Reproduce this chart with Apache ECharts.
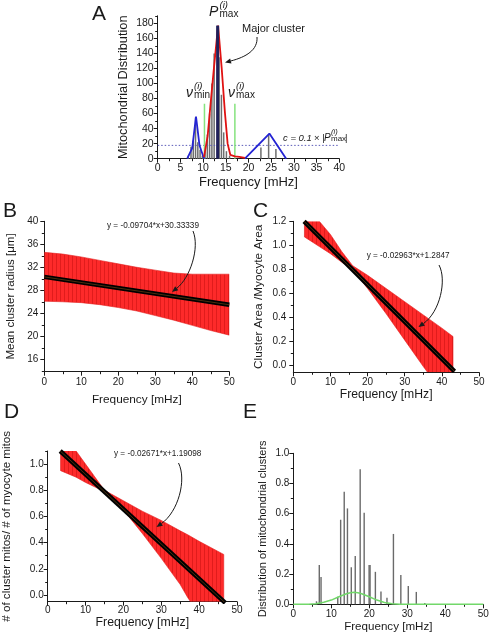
<!DOCTYPE html>
<html><head><meta charset="utf-8">
<script src="https://cdn.jsdelivr.net/npm/echarts@6/dist/echarts.min.js"></script>
<style>html,body{margin:0;padding:0;background:#fff}#c{width:490px;height:636px}</style>
</head><body><div id="c"></div>
<script>
// ---------- Panel A : mitochondrial distribution ----------
const aGreyBars = [[6.9,4],[7.5,16],[8.0,24],[8.5,55],[9.0,22],[9.5,12],[10.0,4],
  [10.6,10],[11.1,32],[11.6,60],[12.1,100],[12.6,140],[13.7,135],[14.2,85],[14.7,35],[15.3,10],[16.0,4],
  [22.9,15],[24.6,33],[26.2,13]];
const aPeakBar = [[13.2,177]];
const aRedCluster = [[10.2,2],[11.0,30],[11.6,70],[12.3,115],[13.3,177],[14.1,120],[14.8,62],[15.4,20],[16.0,5],[17.0,3],[18.0,2.5],[19.2,1]];
const aBlueLeft = [[6.5,0],[7.6,14],[8.44,56],[9.2,18],[10.05,2.7],[10.3,0]];
const aBlueRight = [[19.2,0],[24.6,33.5],[28.3,0]];
const aNuMin = [[10.3,0],[10.3,73]];
const aNuMax = [[17.0,0],[17.0,73]];
const aThreshold = [[0,17.7],[40,17.7]];
const aYLabels = [0,20,40,60,80,100,120,140,160,180];
const aYMinor = [10,30,50,70,90,110,130,150,170,190];

// ---------- Panel B : mean cluster radius ----------
const bX = [0,5,10,15,20,25,30,35,40,45,50];
const bUpper = [34.6,34.3,33.8,33.2,32.6,32.0,31.5,31.0,30.8,30.8,30.8];
const bLower = [26.1,26.0,25.85,25.5,25.0,24.4,23.6,22.8,21.9,21.0,20.2];
const bFit = [[0,30.33],[50,25.48]];
const bYLabels = [16,20,24,28,32,36,40];
const bYMinor = [14,18,22,26,30,34,38];

// ---------- Panel C : cluster area / myocyte area ----------
const cX = [3,7,10,13,16,20,25,30,35,40,43];
const cUpper = [1.36,1.2,1.09,0.95,0.83,0.75,0.64,0.53,0.42,0.31,0.24];
const cLower = [1.07,0.99,0.93,0.86,0.80,0.64,0.43,0.21,-0.01,-0.22,-0.35];
const cFit = [[2.9,1.2],[43.4,-0.05]];
const cYLabels = [0.0,0.2,0.4,0.6,0.8,1.0,1.2];
const cYMinor = [0.1,0.3,0.5,0.7,0.9,1.1];

// ---------- Panel D : cluster mitos / myocyte mitos ----------
const dX = [3.4,7.5,10,15,20,25,30,35,37,40,46.5];
const dUpper = [1.25,1.1,1.0,0.80,0.72,0.64,0.57,0.49,0.46,0.41,0.31];
const dLower = [0.95,0.90,0.86,0.79,0.65,0.47,0.28,0.08,-0.02,-0.15,-0.42];
const dFit = [[3.3,1.1],[46.9,-0.06]];
const dYLabels = [0.0,0.2,0.4,0.6,0.8,1.0];
const dYMinor = [0.1,0.3,0.5,0.7,0.9,1.1];

// ---------- Panel E : distribution of clusters ----------
const eSpikes = [[6.1,0.02],[6.84,0.26],[7.3,0.18],[11.7,0.05],[12.46,0.56],[13.4,0.745],[14.25,0.635],[15.26,0.245],
  [16.3,0.32],[17.6,0.895],[18.65,0.607],[19.95,0.26],[20.2,0.26],[21.6,0.215],[23.07,0.084],[24.65,0.044],
  [26.35,0.466],[28.3,0.194],[30.26,0.121],[32.37,0.082],[34.6,0.008]];
const eGauss = [[0,0],[4,0.001],[6,0.004],[8,0.013],[10,0.028],[12,0.05],[14,0.07],[15,0.077],[16,0.079],
  [17,0.077],[18,0.07],[20,0.05],[22,0.028],[24,0.012],[26,0.004],[28,0.001],[30,0],[50,0]];
const eYLabels = [0.0,0.2,0.4,0.6,0.8,1.0];
const eYMinor = [0.1,0.3,0.5,0.7,0.9];

// ---------- helpers ----------
const FONT = '"Liberation Sans", Arial, Helvetica, sans-serif';
const INK = '#1a1a1a';
const grids = [
  {left:157.7, top:15.8, width:181.6, height:142.9},
  {left:44.3, top:221.3, width:185, height:150.4},
  {left:293.3, top:221.3, width:185.7, height:151},
  {left:47.7, top:451, width:189.3, height:150.7},
  {left:293.3, top:453.3, width:190, height:151}
].map(g => Object.assign({containLabel:false, outerBoundsMode:'none'}, g));

function xAx(grid, max, interval, name, fs, lfs, margin, gap){
  return {type:'value', gridIndex:grid, min:0, max:max, interval:interval,
    axisLine:{onZero:false, lineStyle:{color:INK, width:1}},
    axisTick:{length:4, lineStyle:{color:INK}},
    minorTick:{show:true, splitNumber:2, length:2.5, lineStyle:{color:INK}},
    splitLine:{show:false}, minorSplitLine:{show:false},
    axisLabel:{fontSize:lfs, fontFamily:FONT, color:INK, margin:margin},
    name:name, nameLocation:'middle', nameGap:gap,
    nameTextStyle:{fontSize:fs, fontFamily:FONT, color:INK}};
}
function yAx(grid, min, max, labels, name, fs, lfs, margin, gap, fmt){
  return {type:'value', gridIndex:grid, position:'left', min:min, max:max,
    axisLine:{onZero:false, lineStyle:{color:INK, width:1}},
    axisTick:{length:4, customValues:labels, lineStyle:{color:INK}},
    splitLine:{show:false},
    axisLabel:{customValues:labels, fontSize:lfs, fontFamily:FONT, color:INK, margin:margin,
      formatter: fmt || (v => String(v))},
    name:name, nameLocation:'middle', nameGap:gap, nameRotate:90,
    nameTextStyle:{fontSize:fs, fontFamily:FONT, color:INK}};
}
function yMinor(grid, min, max, ticks){
  return {type:'value', gridIndex:grid, position:'left', min:min, max:max,
    axisLine:{show:false}, splitLine:{show:false},
    axisTick:{length:2.5, customValues:ticks, lineStyle:{color:INK}},
    axisLabel:{show:false}};
}
const f1 = v => v.toFixed(1);

const hatchCanvas = (function(){
  const c = document.createElement('canvas'); c.width = 4; c.height = 8;
  const g = c.getContext('2d');
  g.fillStyle = '#fd2a2a'; g.fillRect(0,0,4,8);
  g.fillStyle = '#e01c1c'; g.fillRect(0,0,1,8);
  return c;
})();
function band(xi, xs, lo, up){
  return {type:'custom', xAxisIndex:xi, yAxisIndex:xi, data:[[xs[0], lo[0]]], silent:true, z:2, clip:true,
    renderItem:function(params, api){
      const top = xs.map((x,i)=>api.coord([x, up[i]]));
      const bot = xs.map((x,i)=>api.coord([x, lo[i]])).reverse();
      const cs = params.coordSys;
      return {type:'polygon', shape:{points:top.concat(bot)},
        style:{fill:{image:hatchCanvas, repeat:'repeat'}, stroke:'#e42020', lineWidth:0.6},
        clipPath:{type:'rect', shape:{x:cs.x, y:cs.y, width:cs.width, height:cs.height}}};
    }};
}
function fit(xi, d){
  return [
    {type:'line', xAxisIndex:xi, yAxisIndex:xi, data:d, symbol:'none', lineStyle:{color:'#000', width:4.5}, z:5},
    {type:'line', xAxisIndex:xi, yAxisIndex:xi, data:d, symbol:'none', lineStyle:{color:'#5e3a12', width:0.8}, z:6}
  ];
}
function lineS(xi, d, color, w, extra){
  return Object.assign({type:'line', xAxisIndex:xi, yAxisIndex:xi, data:d, symbol:'none',
    lineStyle:{color:color, width:w}, z:4}, extra||{});
}
function t(x, y, s, size, o){
  return {type:'text', x:x, y:y, silent:true, z:50,
    style:Object.assign({text:s, fontSize:size, fontFamily:FONT, fill:INK,
      align:'left', verticalAlign:'top', textAlign:'left', textVerticalAlign:'top'}, o||{})};
}
function arrow(p0, c1, c2, p1){
  const dx = p1[0]-c2[0], dy = p1[1]-c2[1], L = Math.hypot(dx,dy), ux = dx/L, uy = dy/L;
  const hl = 6, hw = 2.6, bx = p1[0]-ux*hl, by = p1[1]-uy*hl;
  return [
    {type:'bezierCurve', silent:true, z:50, shape:{x1:p0[0], y1:p0[1], cpx1:c1[0], cpy1:c1[1], cpx2:c2[0], cpy2:c2[1], x2:bx, y2:by},
      style:{stroke:INK, lineWidth:1, fill:null}},
    {type:'polygon', silent:true, z:50, shape:{points:[p1, [bx-uy*hw, by+ux*hw], [bx+uy*hw, by-ux*hw]]}, style:{fill:INK}}
  ];
}

const xAxes = [
  xAx(0, 40, 5, 'Frequency [mHz]', 13, 10.5, 4, 17),
  xAx(1, 50, 10, 'Frequency [mHz]', 11.8, 10, 6, 22),
  xAx(2, 50, 10, 'Frequency [mHz]', 12.2, 10, 5, 13),
  xAx(3, 50, 10, 'Frequency [mHz]', 12.3, 10, 4, 15),
  xAx(4, 50, 10, 'Frequency [mHz]', 11.6, 10, 5, 16)
];
const yAxes = [
  yAx(0, 0, 190, aYLabels, 'Mitochondrial Distribution', 12.8, 10.5, 4, 28),
  yAx(1, 13.84, 40, bYLabels, 'Mean cluster radius [\u03bcm]', 11.5, 10, 6, 27),
  yAx(2, -0.058, 1.2, cYLabels, 'Cluster Area /Myocyte Area', 11.8, 10, 7, 29),
  yAx(3, -0.051, 1.1, dYLabels, '# of cluster mitos/ # of myocyte mitos', 11.6, 10, 4, 35),
  yAx(4, 0, 1.0, eYLabels, 'Distribution of mitochondrial clusters', 11, 10, 4, 25),
  yMinor(0, 0, 190, aYMinor), yMinor(1, 13.84, 40, bYMinor), yMinor(2, -0.058, 1.2, cYMinor),
  yMinor(3, -0.051, 1.1, dYMinor), yMinor(4, 0, 1.0, eYMinor)
];
yAxes[2].axisLabel.formatter = f1; yAxes[3].axisLabel.formatter = f1; yAxes[4].axisLabel.formatter = f1;

const series = [
  // A
  {type:'bar', xAxisIndex:0, yAxisIndex:0, data:aGreyBars, barWidth:1.5, itemStyle:{color:'#6e6e6e'}, z:2, silent:true},
  lineS(0, aThreshold, '#5a5ab8', 1, {lineStyle:{color:'#5a5ab8', width:1, type:[1.5,2]}, z:3}),
  lineS(0, aNuMin, '#86e37e', 1.5),
  lineS(0, aNuMax, '#86e37e', 1.5),
  lineS(0, aBlueLeft, '#2424d4', 1.8),
  lineS(0, aBlueRight, '#2424d4', 1.8),
  lineS(0, aRedCluster, '#e01212', 1.8),
  {type:'bar', xAxisIndex:0, yAxisIndex:0, data:aPeakBar, barWidth:3, barGap:'-100%', itemStyle:{color:'#20205a'}, z:6, silent:true},
  // B, C, D
  band(1, bX, bLower, bUpper), ...fit(1, bFit),
  band(2, cX, cLower, cUpper), ...fit(2, cFit),
  band(3, dX, dLower, dUpper), ...fit(3, dFit),
  // E
  {type:'bar', xAxisIndex:4, yAxisIndex:4, data:eSpikes, barWidth:1.4, itemStyle:{color:'#6a6a6a'}, z:2, silent:true},
  lineS(4, eGauss, '#72d86a', 1.5)
];

const graphic = [
  t(92, 4, 'A', 21), t(3, 201, 'B', 21), t(253, 201, 'C', 21), t(4, 402, 'D', 21), t(243, 402, 'E', 21),
  // A annotations
  t(209, 5, 'P', 14, {fontStyle:'italic'}), t(219.5, 0, '(i)', 9.5, {fontStyle:'italic'}), t(219.5, 9.5, 'max', 10),
  t(242, 23, 'Major cluster', 11),
  t(186, 86, '\u03bd', 14, {fontStyle:'italic'}), t(194, 81, '(i)', 9.5, {fontStyle:'italic'}), t(194, 90, 'min', 10),
  t(228, 86, '\u03bd', 14, {fontStyle:'italic'}), t(236, 81, '(i)', 9.5, {fontStyle:'italic'}), t(236, 90, 'max', 10),
  t(283, 133, 'c = 0.1', 9.5, {fontStyle:'italic'}), t(314, 133, '\u00d7 |', 9.5),
  t(324, 133, 'P', 10, {fontStyle:'italic'}), t(331, 128, '(i)', 7.5, {fontStyle:'italic'}), t(331, 135, 'max', 8), t(345, 133, '|', 9.5),
  ...arrow([257,37], [258,50], [246,57], [225,62.5]),
  // fit equations
  t(107, 221.5, 'y = -0.09704*x+30.33339', 8.2),
  ...arrow([193,231], [200,248], [190,278], [172,292]),
  t(366.7, 251.5, 'y = -0.02963*x+1.2847', 8.2),
  ...arrow([439,265], [447,280], [440,312], [418.5,327]),
  t(114, 450, 'y = -0.02671*x+1.19098', 8.2),
  ...arrow([178.5,463], [187,480], [178,512], [156.5,527])
];

const chart = echarts.init(document.getElementById('c'), null, {renderer:'canvas'});
chart.setOption({
  animation:false, backgroundColor:'#fff',
  textStyle:{fontFamily:FONT},
  grid:grids, xAxis:xAxes, yAxis:yAxes, series:series, graphic:graphic
});
</script></body></html>
